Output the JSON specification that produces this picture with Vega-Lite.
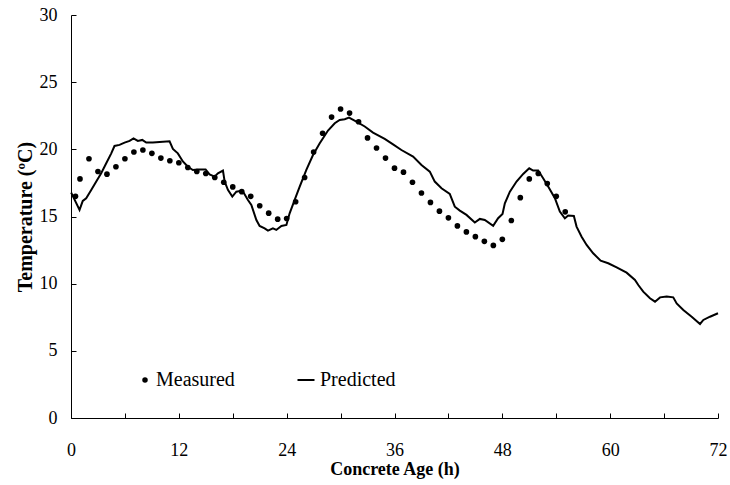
{
  "$schema": "https://vega.github.io/schema/vega-lite/v6.json",
  "autosize": {"type": "none"},
  "padding": {"left": 71, "top": 15, "right": 12, "bottom": 67},
  "width": 647,
  "height": 403,
  "background": "white",
  "config": {
    "view": {"stroke": null},
    "font": "Liberation Serif, Times New Roman, serif",
    "axis": {"grid": false, "domainColor": "black", "tickColor": "black", "domainWidth": 1, "tickWidth": 1, "labelColor": "black", "titleColor": "black", "labelFont": "Liberation Serif, Times New Roman, serif", "titleFont": "Liberation Serif, Times New Roman, serif"},
    "legend": {"labelFont": "Liberation Serif, Times New Roman, serif", "labelFontSize": 20, "labelColor": "black", "padding": 0, "title": null}
  },
  "datasets": {
    "measured": [
      {"series": "Measured", "age": 0.5, "temp": 16.5}, {"series": "Measured", "age": 1, "temp": 17.8}, {"series": "Measured", "age": 2, "temp": 19.3},
      {"series": "Measured", "age": 3, "temp": 18.35}, {"series": "Measured", "age": 4, "temp": 18.15}, {"series": "Measured", "age": 5, "temp": 18.7},
      {"series": "Measured", "age": 6, "temp": 19.3}, {"series": "Measured", "age": 7, "temp": 19.8}, {"series": "Measured", "age": 8, "temp": 19.95},
      {"series": "Measured", "age": 9, "temp": 19.7}, {"series": "Measured", "age": 10, "temp": 19.35}, {"series": "Measured", "age": 11, "temp": 19.15},
      {"series": "Measured", "age": 12, "temp": 19.0}, {"series": "Measured", "age": 13, "temp": 18.65}, {"series": "Measured", "age": 14, "temp": 18.35},
      {"series": "Measured", "age": 15, "temp": 18.2}, {"series": "Measured", "age": 16, "temp": 17.9}, {"series": "Measured", "age": 17, "temp": 17.55},
      {"series": "Measured", "age": 18, "temp": 17.2}, {"series": "Measured", "age": 19, "temp": 16.85}, {"series": "Measured", "age": 20, "temp": 16.5},
      {"series": "Measured", "age": 21, "temp": 15.8}, {"series": "Measured", "age": 22, "temp": 15.25}, {"series": "Measured", "age": 23, "temp": 14.8},
      {"series": "Measured", "age": 24, "temp": 14.85}, {"series": "Measured", "age": 25, "temp": 16.1}, {"series": "Measured", "age": 26, "temp": 17.9},
      {"series": "Measured", "age": 27, "temp": 19.8}, {"series": "Measured", "age": 28, "temp": 21.2}, {"series": "Measured", "age": 29, "temp": 22.4},
      {"series": "Measured", "age": 30, "temp": 23.0}, {"series": "Measured", "age": 31, "temp": 22.7}, {"series": "Measured", "age": 32, "temp": 22.05},
      {"series": "Measured", "age": 33, "temp": 20.85}, {"series": "Measured", "age": 34, "temp": 20.1}, {"series": "Measured", "age": 35, "temp": 19.35},
      {"series": "Measured", "age": 36, "temp": 18.6}, {"series": "Measured", "age": 37, "temp": 18.3}, {"series": "Measured", "age": 38, "temp": 17.55},
      {"series": "Measured", "age": 39, "temp": 16.75}, {"series": "Measured", "age": 40, "temp": 16.05}, {"series": "Measured", "age": 41, "temp": 15.4},
      {"series": "Measured", "age": 42, "temp": 14.9}, {"series": "Measured", "age": 43, "temp": 14.3}, {"series": "Measured", "age": 44, "temp": 13.85},
      {"series": "Measured", "age": 45, "temp": 13.5}, {"series": "Measured", "age": 46, "temp": 13.15}, {"series": "Measured", "age": 47, "temp": 12.85},
      {"series": "Measured", "age": 48, "temp": 13.3}, {"series": "Measured", "age": 49, "temp": 14.7}, {"series": "Measured", "age": 50, "temp": 16.4},
      {"series": "Measured", "age": 51, "temp": 17.8}, {"series": "Measured", "age": 52, "temp": 18.2}, {"series": "Measured", "age": 53, "temp": 17.45},
      {"series": "Measured", "age": 54, "temp": 16.5}, {"series": "Measured", "age": 55, "temp": 15.35}
    ],
    "predicted": [
      {"series": "Predicted", "age": 0.02, "temp": 16.78}, {"series": "Predicted", "age": 0.95, "temp": 15.49}, {"series": "Predicted", "age": 1.31, "temp": 16.16}, {"series": "Predicted", "age": 1.69, "temp": 16.36},
      {"series": "Predicted", "age": 2.25, "temp": 16.98}, {"series": "Predicted", "age": 2.81, "temp": 17.6}, {"series": "Predicted", "age": 3.36, "temp": 18.22}, {"series": "Predicted", "age": 3.92, "temp": 18.96},
      {"series": "Predicted", "age": 4.48, "temp": 19.7}, {"series": "Predicted", "age": 4.84, "temp": 20.25}, {"series": "Predicted", "age": 5.4, "temp": 20.33}, {"series": "Predicted", "age": 5.96, "temp": 20.5},
      {"series": "Predicted", "age": 6.52, "temp": 20.63}, {"series": "Predicted", "age": 6.96, "temp": 20.82}, {"series": "Predicted", "age": 7.44, "temp": 20.63}, {"series": "Predicted", "age": 7.93, "temp": 20.7},
      {"series": "Predicted", "age": 8.37, "temp": 20.5}, {"series": "Predicted", "age": 9.11, "temp": 20.5}, {"series": "Predicted", "age": 9.86, "temp": 20.55}, {"series": "Predicted", "age": 10.97, "temp": 20.6},
      {"series": "Predicted", "age": 11.34, "temp": 20.03}, {"series": "Predicted", "age": 11.89, "temp": 19.7}, {"series": "Predicted", "age": 12.45, "temp": 19.1}, {"series": "Predicted", "age": 13.01, "temp": 18.7},
      {"series": "Predicted", "age": 13.56, "temp": 18.46}, {"series": "Predicted", "age": 14.12, "temp": 18.5}, {"series": "Predicted", "age": 14.98, "temp": 18.5}, {"series": "Predicted", "age": 15.42, "temp": 18.14},
      {"series": "Predicted", "age": 15.98, "temp": 17.97}, {"series": "Predicted", "age": 16.35, "temp": 18.22}, {"series": "Predicted", "age": 16.91, "temp": 18.42}, {"series": "Predicted", "age": 17.1, "temp": 17.6},
      {"series": "Predicted", "age": 17.46, "temp": 16.98}, {"series": "Predicted", "age": 17.95, "temp": 16.48}, {"series": "Predicted", "age": 18.4, "temp": 16.85}, {"series": "Predicted", "age": 19.07, "temp": 16.93},
      {"series": "Predicted", "age": 19.69, "temp": 16.23}, {"series": "Predicted", "age": 20.07, "temp": 15.86}, {"series": "Predicted", "age": 20.63, "temp": 14.74}, {"series": "Predicted", "age": 20.99, "temp": 14.3},
      {"series": "Predicted", "age": 21.55, "temp": 14.12}, {"series": "Predicted", "age": 21.92, "temp": 13.95}, {"series": "Predicted", "age": 22.47, "temp": 14.12}, {"series": "Predicted", "age": 22.85, "temp": 14.0},
      {"series": "Predicted", "age": 23.41, "temp": 14.3}, {"series": "Predicted", "age": 23.97, "temp": 14.37}, {"series": "Predicted", "age": 24.33, "temp": 15.24}, {"series": "Predicted", "age": 24.89, "temp": 16.23},
      {"series": "Predicted", "age": 25.45, "temp": 17.23}, {"series": "Predicted", "age": 26.19, "temp": 18.47}, {"series": "Predicted", "age": 26.93, "temp": 19.58}, {"series": "Predicted", "age": 27.68, "temp": 20.45},
      {"series": "Predicted", "age": 28.6, "temp": 21.4}, {"series": "Predicted", "age": 29.35, "temp": 21.94}, {"series": "Predicted", "age": 29.9, "temp": 22.19}, {"series": "Predicted", "age": 30.46, "temp": 22.24},
      {"series": "Predicted", "age": 30.94, "temp": 22.36}, {"series": "Predicted", "age": 31.76, "temp": 22.07}, {"series": "Predicted", "age": 32.69, "temp": 21.7}, {"series": "Predicted", "age": 33.61, "temp": 21.25},
      {"series": "Predicted", "age": 34.91, "temp": 20.78}, {"series": "Predicted", "age": 35.84, "temp": 20.37}, {"series": "Predicted", "age": 36.77, "temp": 19.95}, {"series": "Predicted", "age": 38.07, "temp": 19.46},
      {"series": "Predicted", "age": 39.0, "temp": 18.84}, {"series": "Predicted", "age": 39.93, "temp": 18.34}, {"series": "Predicted", "age": 40.48, "temp": 17.6}, {"series": "Predicted", "age": 41.23, "temp": 17.1},
      {"series": "Predicted", "age": 42.15, "temp": 16.68}, {"series": "Predicted", "age": 42.71, "temp": 15.73}, {"series": "Predicted", "age": 43.27, "temp": 15.44}, {"series": "Predicted", "age": 44.01, "temp": 15.12},
      {"series": "Predicted", "age": 44.94, "temp": 14.55}, {"series": "Predicted", "age": 45.5, "temp": 14.82}, {"series": "Predicted", "age": 46.05, "temp": 14.74}, {"series": "Predicted", "age": 46.98, "temp": 14.3},
      {"series": "Predicted", "age": 47.53, "temp": 14.87}, {"series": "Predicted", "age": 48.02, "temp": 15.19}, {"series": "Predicted", "age": 48.28, "temp": 15.98}, {"series": "Predicted", "age": 48.84, "temp": 16.85},
      {"series": "Predicted", "age": 49.58, "temp": 17.6}, {"series": "Predicted", "age": 50.32, "temp": 18.17}, {"series": "Predicted", "age": 50.99, "temp": 18.59}, {"series": "Predicted", "age": 51.43, "temp": 18.42},
      {"series": "Predicted", "age": 51.99, "temp": 18.42}, {"series": "Predicted", "age": 52.54, "temp": 17.85}, {"series": "Predicted", "age": 53.1, "temp": 17.23}, {"series": "Predicted", "age": 53.85, "temp": 16.36},
      {"series": "Predicted", "age": 54.4, "temp": 15.37}, {"series": "Predicted", "age": 54.96, "temp": 14.87}, {"series": "Predicted", "age": 55.33, "temp": 15.07}, {"series": "Predicted", "age": 55.96, "temp": 15.04},
      {"series": "Predicted", "age": 56.26, "temp": 14.25}, {"series": "Predicted", "age": 56.82, "temp": 13.5}, {"series": "Predicted", "age": 57.38, "temp": 12.88}, {"series": "Predicted", "age": 58.11, "temp": 12.26},
      {"series": "Predicted", "age": 58.94, "temp": 11.71}, {"series": "Predicted", "age": 59.78, "temp": 11.52}, {"series": "Predicted", "age": 60.72, "temp": 11.22}, {"series": "Predicted", "age": 61.83, "temp": 10.82},
      {"series": "Predicted", "age": 62.76, "temp": 10.28}, {"series": "Predicted", "age": 63.13, "temp": 9.9}, {"series": "Predicted", "age": 63.68, "temp": 9.41}, {"series": "Predicted", "age": 64.43, "temp": 8.91},
      {"series": "Predicted", "age": 64.99, "temp": 8.66}, {"series": "Predicted", "age": 65.55, "temp": 8.98}, {"series": "Predicted", "age": 66.29, "temp": 9.04}, {"series": "Predicted", "age": 67.02, "temp": 8.98},
      {"series": "Predicted", "age": 67.4, "temp": 8.53}, {"series": "Predicted", "age": 68.14, "temp": 8.04}, {"series": "Predicted", "age": 69.07, "temp": 7.54}, {"series": "Predicted", "age": 70.0, "temp": 7.0},
      {"series": "Predicted", "age": 70.37, "temp": 7.3}, {"series": "Predicted", "age": 71.11, "temp": 7.54}, {"series": "Predicted", "age": 72.0, "temp": 7.8}
    ]
  },
  "layer": [
    {
      "data": {"name": "predicted"},
      "mark": {"type": "line", "strokeWidth": 2, "clip": false},
      "encoding": {
        "x": {"field": "age", "type": "quantitative", "scale": {"domain": [0, 72], "nice": false, "zero": false},
          "axis": {"values": [0, 6, 12, 18, 24, 30, 36, 42, 48, 54, 60, 66, 72], "labelExpr": "datum.value % 12 === 0 ? datum.label : ''", "labelOverlap": false, "tickSize": -5, "labelPadding": 28, "labelFontSize": 18, "labelFlush": false, "title": "Concrete Age (h)", "titleFontSize": 18, "titleFontWeight": "bold", "titlePadding": 1}},
        "y": {"field": "temp", "type": "quantitative", "scale": {"domain": [0, 30], "nice": false},
          "axis": {"values": [0, 2.5, 5, 7.5, 10, 12.5, 15, 17.5, 20, 22.5, 25, 27.5, 30], "labelExpr": "datum.value % 5 === 0 ? datum.label : ''", "labelOverlap": false, "tickSize": -5, "labelPadding": 19, "labelFontSize": 18, "labelFlush": false, "title": "Temperature (ºC)", "titleFontSize": 20, "titleFontWeight": "bold", "titlePadding": 4}},
        "color": {"field": "series", "type": "nominal", "scale": {"domain": ["Predicted"], "range": ["black"]},
          "legend": {"orient": "none", "legendX": 225, "legendY": 355, "symbolType": "stroke", "symbolSize": 289, "symbolStrokeWidth": 2, "labelOffset": 4}}
      }
    },
    {
      "data": {"name": "measured"},
      "mark": {"type": "point", "filled": true, "color": "black", "opacity": 1, "size": 32},
      "encoding": {
        "x": {"field": "age", "type": "quantitative"},
        "y": {"field": "temp", "type": "quantitative"},
        "shape": {"field": "series", "type": "nominal", "scale": {"domain": ["Measured"], "range": ["circle"]},
          "legend": {"orient": "none", "legendX": 64, "legendY": 355, "symbolSize": 30, "symbolFillColor": "black", "symbolStrokeWidth": 0, "symbolOpacity": 1, "labelOffset": 1}}
      }
    }
  ]
}
